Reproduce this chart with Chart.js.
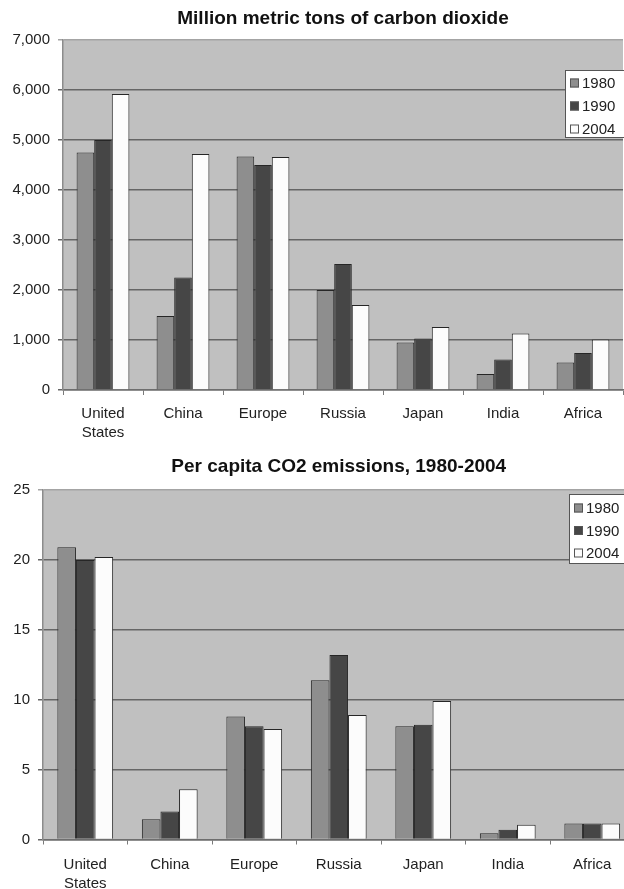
<!DOCTYPE html>
<html>
<head>
<meta charset="utf-8">
<script src="https://cdn.jsdelivr.net/npm/chart.js@4.4.1/dist/chart.umd.min.js"></script>
<style>
    html, body { margin: 0; padding: 0; background: #fff; overflow: hidden; width: 624px; height: 889px; }
    #topBox { position: absolute; left: 0; top: 0; }
    #bottomBox { position: absolute; left: 0; top: 445px; }
</style>
</head>
<body>
<div id="topBox"><canvas id="tonsChart" width="624" height="445"></canvas></div>
<div id="bottomBox"><canvas id="perCapitaChart" width="640" height="444"></canvas></div>
<script>
const regions = [['United', 'States'], 'China', 'Europe', 'Russia', 'Japan', 'India', 'Africa'];
const years = ['1980', '1990', '2004'];

// million metric tons of CO2
const tons1980 = [4750, 1480, 4670, 2000, 950, 320, 550];
const tons1990 = [5000, 2250, 4500, 2520, 1030, 610, 740];
const tons2004 = [5920, 4720, 4660, 1700, 1260, 1130, 1010];
const tonsTicks = [0, 1000, 2000, 3000, 4000, 5000, 6000, 7000];

// per capita emissions
const perCap1980 = [20.9, 1.45, 8.8, 11.4, 8.1, 0.45, 1.15];
const perCap1990 = [20.0, 2.0, 8.1, 13.2, 8.2, 0.7, 1.15];
const perCap2004 = [20.2, 3.6, 7.9, 8.9, 9.9, 1.05, 1.15];
const perCapTicks = [0, 5, 10, 15, 20, 25];

const barColors = ['#8e8e8e', '#464646', '#fcfcfc'];
const FONT = '"Liberation Sans", Arial, sans-serif';

Chart.defaults.font.family = FONT;
Chart.defaults.color = '#222';
Chart.defaults.animation = false;

// grey plot area like the old spreadsheet charts
const plotBackground = {
    id: 'plotBackground',
    beforeDraw(chart) {
        const a = chart.chartArea;
        const ctx = chart.ctx;
        ctx.save();
        ctx.fillStyle = '#c0c0c0';
        ctx.fillRect(a.left, a.top, a.right - a.left, a.bottom - a.top);
        ctx.restore();
    }
};

// legend drawn as a white box inside the plot
const boxLegend = {
    id: 'boxLegend',
    afterDraw(chart, args, opts) {
        const ctx = chart.ctx;
        ctx.save();
        ctx.fillStyle = '#fff';
        ctx.strokeStyle = '#555';
        ctx.lineWidth = 1;
        ctx.fillRect(opts.x, opts.y, opts.w, opts.h);
        ctx.strokeRect(opts.x + 0.5, opts.y + 0.5, opts.w, opts.h);
        ctx.font = '15px ' + FONT;
        ctx.textBaseline = 'middle';
        chart.data.datasets.forEach((ds, i) => {
            const cy = opts.y + opts.first + i * opts.step;
            ctx.fillStyle = ds.backgroundColor;
            ctx.fillRect(opts.x + 5, cy - 4.5, 9, 9);
            ctx.strokeStyle = '#555';
            ctx.strokeRect(opts.x + 5.5, cy - 4, 8, 8);
            ctx.fillStyle = '#222';
            ctx.fillText(ds.label, opts.x + 17, cy + 1);
        });
        ctx.restore();
    }
};

function makeDatasets(series) {
    return series.map((values, i) => ({
        label: years[i],
        data: values,
        backgroundColor: barColors[i],
        borderColor: '#262626',
        borderWidth: 1,
        categoryPercentage: 0.66,
        barPercentage: 1.0
    }));
}

function buildChart(id, cfg) {
    const maxTick = cfg.ticks[cfg.ticks.length - 1];
    return new Chart(document.getElementById(id).getContext('2d'), {
        type: 'bar',
        data: {
            labels: regions,
            datasets: makeDatasets(cfg.series)
        },
        options: {
            responsive: false,
            layout: { padding: { left: 0, right: cfg.padRight, top: 0, bottom: 0 } },
            plugins: {
                legend: { display: false },
                tooltip: { enabled: false },
                title: {
                    display: true,
                    text: cfg.title,
                    fullSize: false,
                    color: '#111',
                    font: { size: 19, weight: 'bold', lineHeight: 1.2 },
                    padding: cfg.titlePad
                },
                boxLegend: cfg.legend
            },
            scales: {
                x: {
                    grid: {
                        display: true,
                        drawOnChartArea: false,
                        tickLength: 5,
                        color: '#7a7a7a'
                    },
                    border: { color: '#6e6e6e', width: 1.5 },
                    ticks: {
                        font: { size: 15, lineHeight: 1.27 },
                        color: '#222',
                        padding: cfg.xPad,
                        maxRotation: 0,
                        autoSkip: false
                    },
                    afterFit(axis) { axis.height = cfg.xHeight; }
                },
                y: {
                    min: 0,
                    max: maxTick,
                    afterBuildTicks(axis) { axis.ticks = cfg.ticks.map(v => ({ value: v })); },
                    grid: {
                        tickLength: 5,
                        lineWidth: 1.5,
                        color: c => (c.tick && c.tick.value === maxTick) ? '#a4a4a4' : '#666'
                    },
                    border: { color: '#8c8c8c', width: 1.5 },
                    ticks: {
                        font: { size: 15 },
                        color: '#222',
                        padding: 8,
                        callback: v => cfg.comma ? v.toLocaleString('en-US') : v
                    },
                    afterFit(axis) { axis.width = cfg.yWidth; }
                }
            }
        },
        plugins: [plotBackground, boxLegend]
    });
}

buildChart('tonsChart', {
    title: 'Million metric tons of carbon dioxide',
    series: [tons1980, tons1990, tons2004],
    ticks: tonsTicks,
    comma: true,
    padRight: 1,
    yWidth: 63,
    xHeight: 55,
    xPad: 9,
    titlePad: { top: 7, bottom: 10.2 },
    legend: { x: 565, y: 70, w: 70, h: 67, first: 13, step: 23 }
});

buildChart('perCapitaChart', {
    title: 'Per capita CO2 emissions, 1980-2004',
    series: [perCap1980, perCap1990, perCap2004],
    ticks: perCapTicks,
    comma: false,
    padRight: 5.5,
    yWidth: 43,
    xHeight: 49.5,
    xPad: 10.5,
    titlePad: { top: 10.6, bottom: 11.6 },
    legend: { x: 569, y: 49, w: 70, h: 69, first: 14, step: 22.5 }
});
</script>
</body>
</html>
